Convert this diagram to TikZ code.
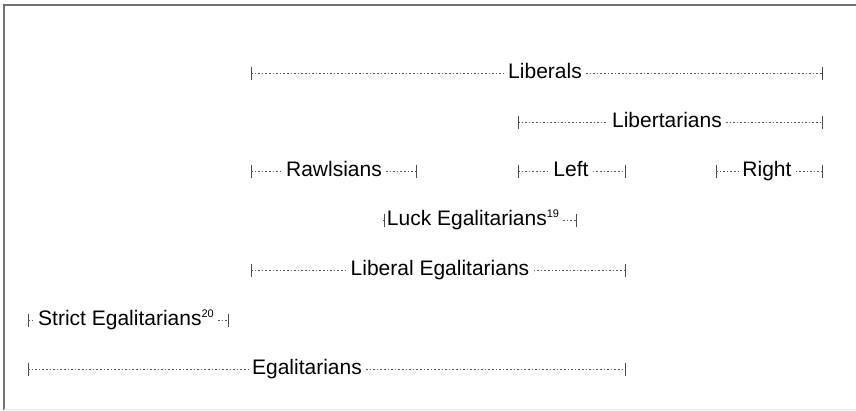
\documentclass[tikz,border=0pt]{standalone}
\usepackage{fontspec}
\setmainfont{Liberation Sans}
\usetikzlibrary{positioning}

\tikzset{
  leader/.style={draw=black!65, line width=0.75pt, dash pattern=on 1.6pt off 2pt},
  endbar/.style={draw=black!70, line width=0.9pt},
  grouplabel/.style={font=\fontsize{21}{24}\selectfont, inner sep=4pt,
    text height=15pt, text depth=4pt},
}
\newcommand\supnum[1]{\raisebox{8pt}{\fontsize{11}{11}\selectfont #1}}

% \groupbar{name}{y}{left end}{right end}{label x}{label}
\newcommand\groupbar[6]{%
  \coordinate (#1-l) at (#3,#2);
  \coordinate (#1-r) at (#4,#2);
  \node[grouplabel] (#1) at (#5,#2) {#6};
  \draw[endbar] ([yshift=6.5pt]#1-l) -- ([yshift=-6.5pt]#1-l);
  \draw[endbar] ([yshift=6.5pt]#1-r) -- ([yshift=-6.5pt]#1-r);
  \draw[leader] (#1-l) -- (#1.west);
  \draw[leader] (#1.east) -- (#1-r);
}

\begin{document}
\begin{tikzpicture}[x=1pt,y=-1pt]
\useasboundingbox (0,0) rectangle (856,410);
% frame
\draw[black!55, line width=2.2pt] (856,5) -- (4,5) -- (4,410);
\draw[black!10, line width=1pt] (4,409.5) -- (856,409.5);

% liberal side
\groupbar{liberals}{73}{251}{822}{545}{Liberals}
\groupbar{libert}{122}{518}{822}{667}{Libertarians}
\groupbar{rawls}{171}{251}{416}{334}{Rawlsians}
\groupbar{leftlib}{171}{518}{625}{571}{Left}
\groupbar{rightlib}{171}{716}{822}{767}{Right}
\groupbar{luck}{220}{384}{576}{473}{Luck Egalitarians\supnum{19}}
\groupbar{libegal}{270}{251}{625}{440}{Liberal Egalitarians}

% egalitarian side
\groupbar{strict}{320}{28}{228}{126}{Strict Egalitarians\supnum{20}}
\groupbar{egal}{369}{28}{625}{307}{Egalitarians}
\end{tikzpicture}
\end{document}
